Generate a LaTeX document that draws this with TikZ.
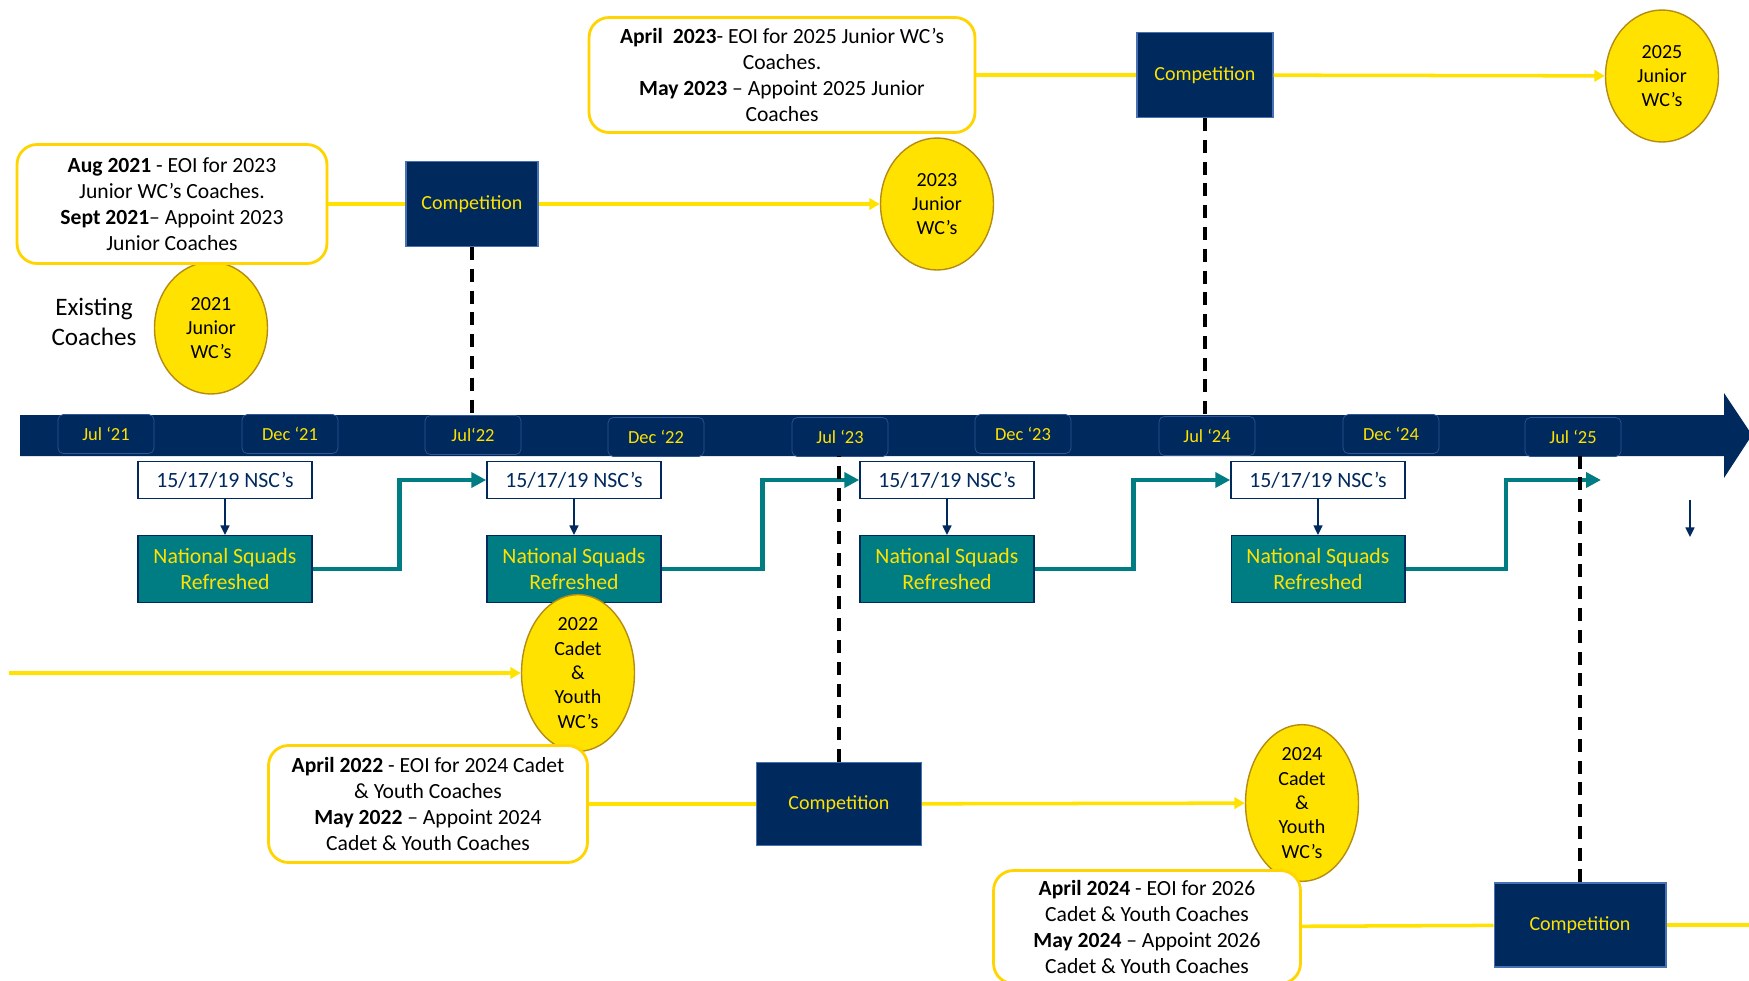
\documentclass[tikz,border=0pt]{standalone}
\usepackage{fontspec}
\setmainfont{Carlito}
\usetikzlibrary{shapes.geometric,arrows.meta}

\definecolor{navy}{RGB}{0,41,94}
\definecolor{navyedge}{RGB}{50,86,150}
\definecolor{compedge}{RGB}{72,112,180}
\definecolor{wcyellow}{RGB}{255,226,0}
\definecolor{noteedge}{RGB}{255,212,0}
\definecolor{wcgold}{RGB}{180,140,20}
\definecolor{squadteal}{RGB}{0,125,130}

\tikzset{
  monthbox/.style={rectangle,rounded corners=3pt,draw=navyedge,fill=navy,text=wcyellow,
    minimum width=1.92cm,minimum height=0.78cm,inner sep=0pt,font=\fontsize{10.5}{12}\selectfont},
  nscbox/.style={rectangle,draw=navy,line width=0.9pt,fill=white,text=navy,
    minimum width=3.48cm,minimum height=0.74cm,inner sep=0pt,font=\fontsize{12.4}{15}\selectfont},
  squadbox/.style={rectangle,draw=navy,line width=0.6pt,fill=squadteal,text=wcyellow,align=center,
    minimum width=3.48cm,minimum height=1.34cm,inner sep=0pt,font=\fontsize{12.4}{15.2}\selectfont},
  compbox/.style={rectangle,draw=compedge,line width=0.6pt,fill=navy,text=wcyellow,
    inner sep=0pt,minimum height=1.7cm,font=\fontsize{11.4}{14}\selectfont},
  notebox/.style={rectangle,rounded corners=0.4cm,draw=noteedge,line width=1.6pt,fill=white,
    align=center,inner sep=0pt,font=\fontsize{12.3}{14.9}\selectfont},
  wcball/.style={ellipse,draw=wcgold,line width=0.8pt,fill=wcyellow,align=center,inner sep=0pt,
    minimum width=2.26cm,minimum height=2.64cm,font=\fontsize{11.4}{13.9}\selectfont},
  yline/.style={draw=wcyellow,line width=2pt},
  yarrow/.style={yline,-{Triangle[length=6pt,width=6.5pt]}},
  dashline/.style={black,line width=1.9pt,dash pattern=on 7.4pt off 5pt},
  tealarrow/.style={draw=squadteal,line width=2.3pt,-{Triangle[length=8.5pt,width=8.5pt]}},
  navyarrow/.style={draw=navy,line width=1.2pt,-{Triangle[length=5.5pt,width=5pt]}}
}

\begin{document}
\begin{tikzpicture}[x=0.02cm,y=-0.02cm]
  \useasboundingbox (0,0) rectangle (1749,981);

  % timeline bar
  \fill[navy] (20,415) -- (1724,415) -- (1724,393) -- (1752,435) -- (1724,478) -- (1724,456) -- (20,456) -- cycle;
  \coordinate (bartop) at (0,415);
  \coordinate (barbot) at (0,456);

  \foreach \x/\y/\lab [count=\i] in {106/434/Jul ‘21, 290/434/Dec ‘21, 473/435/Jul‘22,
      656/437/Dec ‘22, 840/437/Jul ‘23, 1023/434/Dec ‘23, 1207/436/Jul ‘24,
      1391/434/Dec ‘24, 1573/437/Jul ‘25}
    \node[monthbox] (m\i) at (\x,\y) {\lab};

  % squads
  \foreach \x [count=\i] in {225,574,947,1318} {
    \node[nscbox] (nsc\i) at (\x,480) {15/17/19 NSC’s};
    \node[squadbox] (sq\i) at (\x,569) {National Squads\\Refreshed};
    \draw[navyarrow] (nsc\i) -- (sq\i);
  }
  \coordinate (nscend) at (1601,480);
  \draw[tealarrow] (sq1.east) -- ++(87,0) |- (nsc2.west);
  \draw[tealarrow] (sq2.east) -- ++(101,0) |- (nsc3.west);
  \draw[tealarrow] (sq3.east) -- ++(99,0) |- (nsc4.west);
  \draw[tealarrow] (sq4.east) -- ++(100,0) |- (nscend);

  \coordinate (s1) at (1690,500);
  \coordinate (s2) at (1690,537);
  \draw[navyarrow] (s1) -- (s2);

  % junior cycle
  \node[font=\fontsize{14.3}{17}\selectfont,align=center] (existing) at (94,322) {Existing\\Coaches};
  \node[wcball] (wc21) at (211,328) {2021\\Junior\\WC’s};

  \node[notebox,minimum width=6.2cm,minimum height=2.38cm] (note1) at (172,204)
    {\textbf{Aug 2021} - EOI for 2023\\Junior WC’s Coaches.\\\textbf{Sept 2021}– Appoint 2023\\Junior Coaches};
  \node[compbox,minimum width=2.64cm] (comp1) at (472,204) {Competition};
  \node[wcball] (wc23) at (937,204) {2023\\Junior\\WC’s};
  \draw[yline] (note1) -- (comp1);
  \draw[yarrow] (comp1) -- (wc23);
  \draw[dashline] (comp1.south) -- (comp1.south |- bartop);

  \node[notebox,minimum width=7.72cm,minimum height=2.3cm] (note2) at (782,75)
    {\textbf{April\ \ 2023}- EOI for 2025 Junior WC’s\\Coaches.\\\textbf{May 2023} – Appoint 2025 Junior\\Coaches};
  \node[compbox,minimum width=2.72cm] (comp2) at (1205,75) {Competition};
  \node[wcball] (wc25) at (1662,76) {2025\\Junior\\WC’s};
  \draw[yline] (note2) -- (comp2);
  \draw[yarrow] (comp2) -- (wc25);
  \draw[dashline] (comp2.south) -- (comp2.south |- bartop);

  % cadet & youth cycle
  \coordinate (lstart) at (9,673);
  \node[wcball] (wc22) at (578,673) {2022\\Cadet\\\&\\Youth\\WC’s};
  \draw[yarrow] (lstart) -- (wc22);

  \node[notebox,minimum width=6.38cm,minimum height=2.34cm] (note3) at (428,804)
    {\textbf{April 2022} - EOI for 2024 Cadet\\\& Youth Coaches\\\textbf{May 2022} – Appoint 2024\\Cadet \& Youth Coaches};
  \node[compbox,minimum width=3.3cm,minimum height=1.66cm] (comp3) at (839,804) {Competition};
  \node[wcball] (wc24) at (1302,803) {2024\\Cadet\\\&\\Youth\\WC’s};
  \draw[yline] (note3) -- (comp3);
  \draw[yarrow] (comp3) -- (wc24);
  \draw[dashline] (comp3.north) -- (comp3.north |- barbot);

  \node[notebox,minimum width=6.14cm,minimum height=2.26cm] (note4) at (1147,927)
    {\textbf{April 2024} - EOI for 2026\\Cadet \& Youth Coaches\\\textbf{May 2024} – Appoint 2026\\Cadet \& Youth Coaches};
  \node[compbox,minimum width=3.44cm,minimum height=1.68cm] (comp4) at (1580,925) {Competition};
  \coordinate (rend) at (1749,925);
  \draw[yline] (note4) -- (comp4);
  \draw[yline] (comp4) -- (rend);
  \draw[dashline] (comp4.north) -- (comp4.north |- barbot);
\end{tikzpicture}
\end{document}
